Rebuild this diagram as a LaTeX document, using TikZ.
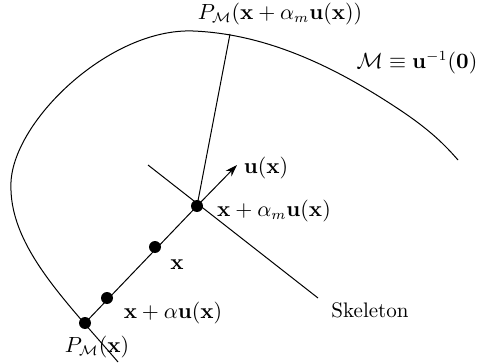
\documentclass[tikz,border=0pt]{standalone}
\usetikzlibrary{arrows.meta}
\begin{document}
\begin{tikzpicture}[x=0.5pt,y=-0.5pt,line width=0.5pt,
  dotn/.style={circle,fill=black,inner sep=0pt,minimum size=6pt},
  lbl/.style={inner sep=0pt,font=\fontsize{10.5}{12}\selectfont}]
\useasboundingbox (0,0) rectangle (478,364);
% manifold curve
\draw (118,362) .. controls (65,300) and (8,245) .. (11,182)
  .. controls (14,120) and (110,28) .. (193,31)
  .. controls (270,34) and (340,70) .. (400,110)
  .. controls (430,130) and (445,145) .. (458,160);
% points
\node[dotn] (p0) at (85,323) {};
\node[dotn] (p1) at (107,298) {};
\node[dotn] (p2) at (155,247) {};
\node[dotn] (p3) at (197,206) {};
\coordinate (tip) at (237,165);
\coordinate (sk1) at (148,165);
\coordinate (sk2) at (318,298);
\coordinate (top) at (230,34);
% skeleton
\draw (sk1) -- (sk2);
% normal line
\draw (p0.center) -- (p3.center);
\draw[-{Stealth[length=6pt,width=4pt]}] (p3.center) -- (tip);
% projection line
\draw (p3.center) -- (top);
% labels
\node[lbl] (l1) at (280,14) {$P_{\mathcal M}(\mathbf x+\alpha_m\mathbf u(\mathbf x))$};
\node[lbl] (l2) at (417,63) {$\mathcal M\equiv\mathbf u^{-1}(\mathbf 0)$};
\node[lbl] (l3) at (266,168) {$\mathbf u(\mathbf x)$};
\node[lbl] (l4) at (274,211) {$\mathbf x+\alpha_m\mathbf u(\mathbf x)$};
\node[lbl] (l5) at (177,265) {$\mathbf x$};
\node[lbl] (l6) at (173,313) {$\mathbf x+\alpha\mathbf u(\mathbf x)$};
\node[lbl] (l7) at (97,347) {$P_{\mathcal M}(\mathbf x)$};
\node[lbl] (l8) at (370,310) {Skeleton};
\end{tikzpicture}
\end{document}
